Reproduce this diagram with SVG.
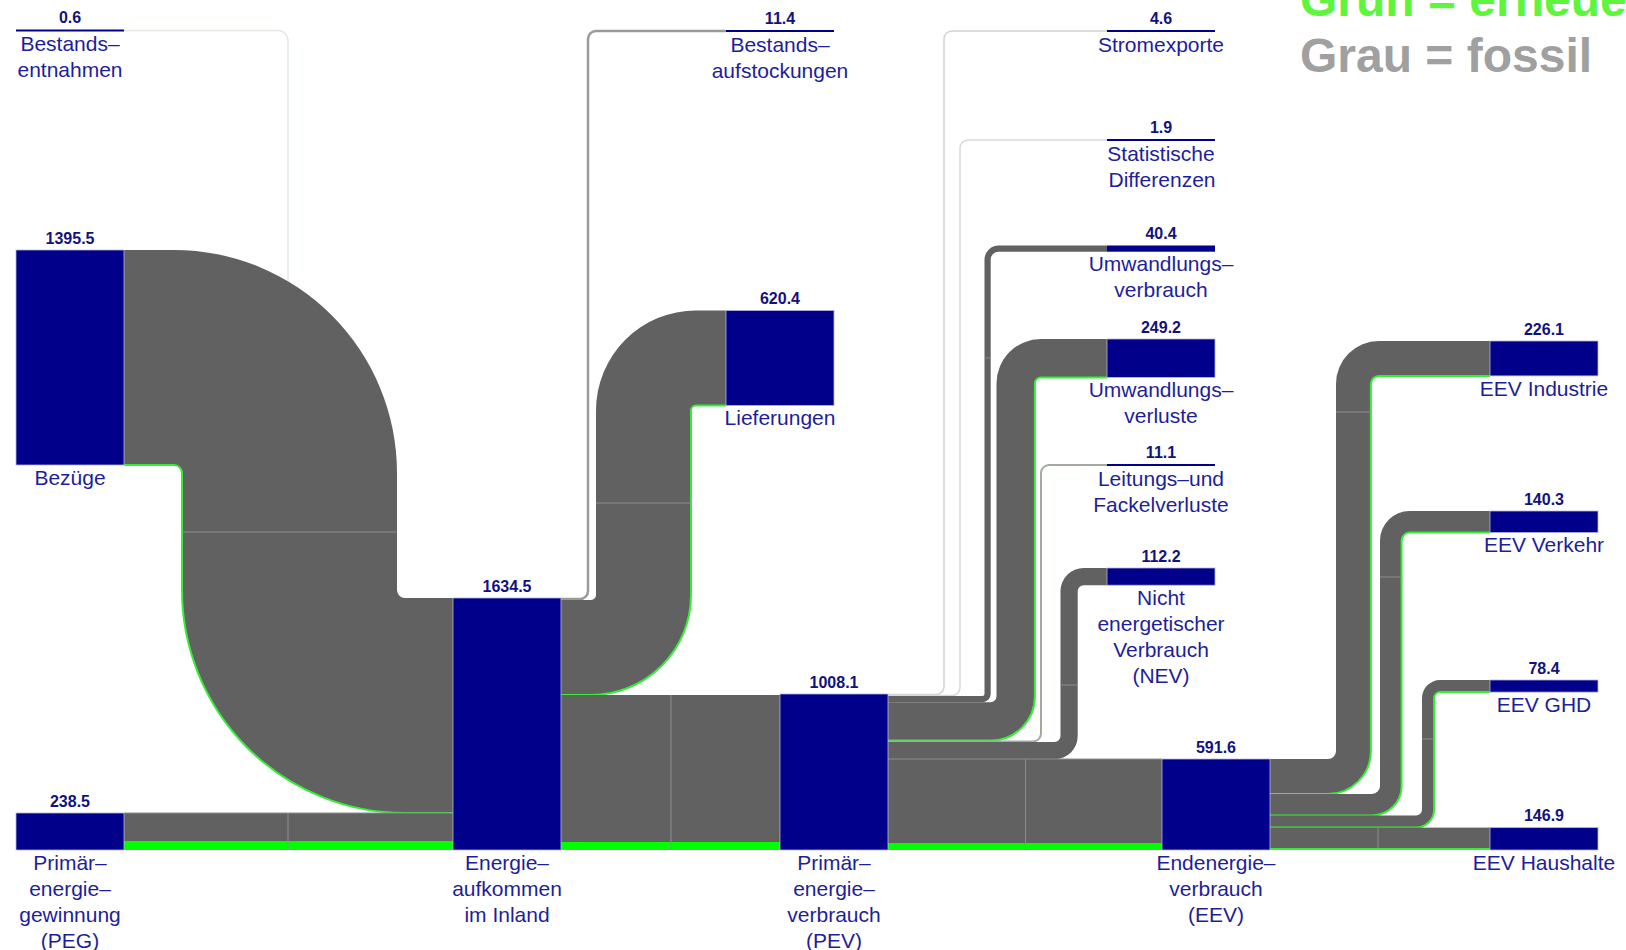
<svg xmlns="http://www.w3.org/2000/svg" width="1626" height="950" viewBox="0 0 1626 950">
<style>
.num{font-family:"Liberation Sans",Arial,sans-serif;font-weight:bold;font-size:16px;fill:#12127e;text-anchor:middle}
.lbl{font-family:"Liberation Sans",Arial,sans-serif;font-size:21px;fill:#1e1e9a;text-anchor:middle}
.node{fill:#00008b;stroke:#b4b4dc;stroke-width:0.8}
.bar{fill:#00008b}
.flow{fill:#616161}
.ren{fill:#00ff00}
.gedge{fill:none;stroke:#36ee36;stroke-width:2}
.seg{stroke:#8e8e8e;stroke-width:1;fill:none}
.thin{fill:none}
.leg{font-family:"Liberation Sans",Arial,sans-serif;font-weight:bold;font-size:48px}
</style>
<rect width="1626" height="950" fill="#ffffff"/>
<g id="legend">
<text class="leg" x="1300" y="16" fill="#5ef53c">Grün = erneue</text>
<text class="leg" x="1300" y="72" fill="#a0a0a0">Grau = fossil</text>
</g>
<g id="connectors">
<path class="thin" d="M124,30.5 L278,30.5 A10,10 0 0 1 288,40.5 L288,320" stroke="#e2eae2" stroke-width="1.5"/>
<path class="flow" d="M124,250 L174,250 A223,223 0 0 1 397,473 L397,590 A8,8 0 0 0 405,598 L453,598 L453,813 L405,813 A223,223 0 0 1 182,590 L182,473 A8,8 0 0 0 174,465 L124,465 Z"/>
<path class="gedge" d="M124,465 L174,465 A8,8 0 0 1 182,473 L182,590 A223,223 0 0 0 405,813 L453,813"/>
<path class="seg" d="M182,532 L397,532"/>
<rect class="flow" x="124" y="813" width="329" height="37"/>
<rect class="ren" x="124" y="841" width="329" height="9"/>
<path class="seg" d="M124,813 L453,813 M288,813 L288,850"/>
<path class="thin" d="M561,599 L580,599 A8,8 0 0 0 588,591 L588,39 A8,8 0 0 1 596,31 L726,31" stroke="#979c97" stroke-width="2.5"/>
<path class="flow" d="M561,600 L591,600 A5,5 0 0 0 596,595 L596,410.5 A100,100 0 0 1 696,310.5 L726,310.5 L726,405.5 L696,405.5 A5,5 0 0 0 691,410.5 L691,595 A100,100 0 0 1 591,695 L561,695 Z"/>
<path class="gedge" d="M561,695 L591,695 A100,100 0 0 0 691,595 L691,410.5 A5,5 0 0 1 696,405.5 L726,405.5"/>
<path class="seg" d="M596,503 L691,503"/>
<rect class="flow" x="561" y="695" width="219" height="155"/>
<rect class="ren" x="561" y="842" width="219" height="8"/>
<path class="seg" d="M671,695 L671,850"/>
<path class="thin" d="M888,694.6 L936,694.6 A8,8 0 0 0 944,686.6 L944,39 A8,8 0 0 1 952,31 L1107,31" stroke="#d2d2d2" stroke-width="1.5"/>
<path class="thin" d="M888,695.5 L952,695.5 A8,8 0 0 0 960,687.5 L960,148 A8,8 0 0 1 968,140 L1107,140" stroke="#d6dad6" stroke-width="1.5"/>
<path class="flow" d="M888,696 L982.5,696 A2,2 0 0 0 984.5,694 L984.5,259.7 A14.2,14.2 0 0 1 998.7,245.5 L1107,245.5 L1107,251.7 L998.7,251.7 A8,8 0 0 0 990.7,259.7 L990.7,694 A8.2,8.2 0 0 1 982.5,702.2 L888,702.2 Z"/>
<path class="seg" d="M984.5,358 L990.7,358"/>
<path class="flow" d="M888,702.2 L990.5,702.2 A6,6 0 0 0 996.5,696.2 L996.5,383.4 A44.4,44.4 0 0 1 1040.9,339 L1107,339 L1107,377.4 L1040.9,377.4 A6,6 0 0 0 1034.9,383.4 L1034.9,696.2 A44.4,44.4 0 0 1 990.5,740.6 L888,740.6 Z"/>
<path class="gedge" d="M888,740.6 L990.5,740.6 A44.4,44.4 0 0 0 1034.9,696.2 L1034.9,383.4 A6,6 0 0 1 1040.9,377.4 L1107,377.4"/>
<path class="thin" d="M888,741.5 L1033,741.5 A8,8 0 0 0 1041,733.5 L1041,473 A8,8 0 0 1 1049,465 L1107,465" stroke="#a2aaa2" stroke-width="2"/>
<path class="flow" d="M888,742 L1054.5,742 A6,6 0 0 0 1060.5,736 L1060.5,591.2 A23.2,23.2 0 0 1 1083.7,568 L1107,568 L1107,585.2 L1083.7,585.2 A6,6 0 0 0 1077.7,591.2 L1077.7,736 A23.2,23.2 0 0 1 1054.5,759.2 L888,759.2 Z"/>
<path class="seg" d="M1060.5,685 L1077.7,685"/>
<rect class="flow" x="888" y="759" width="274" height="91"/>
<rect class="ren" x="888" y="843" width="274" height="7"/>
<path class="seg" d="M888,759 L1162,759 M1025.6,759 L1025.6,850"/>
<path class="flow" d="M1270,759 L1328,759 A8,8 0 0 0 1336,751 L1336,383.9 A42.9,42.9 0 0 1 1378.9,341 L1490,341 L1490,375.9 L1378.9,375.9 A8,8 0 0 0 1370.9,383.9 L1370.9,751 A42.9,42.9 0 0 1 1328,793.9 L1270,793.9 Z"/>
<path class="gedge" d="M1270,793.9 L1328,793.9 A42.9,42.9 0 0 0 1370.9,751 L1370.9,383.9 A8,8 0 0 1 1378.9,375.9 L1490,375.9"/>
<path class="seg" d="M1336,412 L1370.9,412"/>
<path class="flow" d="M1270,793.9 L1372,793.9 A8,8 0 0 0 1380,785.9 L1380,540.6 A29.6,29.6 0 0 1 1409.6,511 L1490,511 L1490,532.6 L1409.6,532.6 A8,8 0 0 0 1401.6,540.6 L1401.6,785.9 A29.6,29.6 0 0 1 1372,815.5 L1270,815.5 Z"/>
<path class="gedge" d="M1270,815.5 L1372,815.5 A29.6,29.6 0 0 0 1401.6,785.9 L1401.6,540.6 A8,8 0 0 1 1409.6,532.6 L1490,532.6"/>
<path class="seg" d="M1380,577 L1401.6,577"/>
<path class="flow" d="M1270,815.5 L1416,815.5 A6,6 0 0 0 1422,809.5 L1422,698.1 A18.1,18.1 0 0 1 1440.1,680 L1490,680 L1490,692.1 L1440.1,692.1 A6,6 0 0 0 1434.1,698.1 L1434.1,809.5 A18.1,18.1 0 0 1 1416,827.6 L1270,827.6 Z"/>
<path class="gedge" d="M1270,827.6 L1416,827.6 A18.1,18.1 0 0 0 1434.1,809.5 L1434.1,698.1 A6,6 0 0 1 1440.1,692.1 L1490,692.1"/>
<path class="seg" d="M1422,739 L1434.1,739"/>
<rect class="flow" x="1270" y="827.6" width="220" height="22.4"/>
<path class="gedge" d="M1270,849 L1490,849"/>
<path class="seg" d="M1378,827.6 L1378,848"/>
</g>
<g id="node-bestandsentnahmen">
<rect class="bar" x="16" y="29.5" width="108" height="2"/>
<text class="num" x="70" y="23">0.6</text>
<text class="lbl" x="70" y="51">Bestands–</text>
<text class="lbl" x="70" y="77">entnahmen</text>
</g>
<g id="node-bezuege">
<rect class="node" x="16" y="250" width="108" height="215"/>
<text class="num" x="70" y="243.5">1395.5</text>
<text class="lbl" x="70" y="484.5">Bezüge</text>
</g>
<g id="node-peg">
<rect class="node" x="16" y="813" width="108" height="37"/>
<text class="num" x="70" y="806.5">238.5</text>
<text class="lbl" x="70" y="869.5">Primär–</text>
<text class="lbl" x="70" y="895.5">energie–</text>
<text class="lbl" x="70" y="921.5">gewinnung</text>
<text class="lbl" x="70" y="947.5">(PEG)</text>
</g>
<g id="node-energieaufkommen">
<rect class="node" x="453" y="598" width="108" height="252"/>
<text class="num" x="507" y="591.5">1634.5</text>
<text class="lbl" x="507" y="869.5">Energie–</text>
<text class="lbl" x="507" y="895.5">aufkommen</text>
<text class="lbl" x="507" y="921.5">im Inland</text>
</g>
<g id="node-bestandsaufstockungen">
<rect class="bar" x="726" y="30" width="108" height="2"/>
<text class="num" x="780" y="23.5">11.4</text>
<text class="lbl" x="780" y="51.5">Bestands–</text>
<text class="lbl" x="780" y="77.5">aufstockungen</text>
</g>
<g id="node-lieferungen">
<rect class="node" x="726" y="310.5" width="108" height="95"/>
<text class="num" x="780" y="304">620.4</text>
<text class="lbl" x="780" y="425">Lieferungen</text>
</g>
<g id="node-pev">
<rect class="node" x="780" y="694" width="108" height="156"/>
<text class="num" x="834" y="687.5">1008.1</text>
<text class="lbl" x="834" y="869.5">Primär–</text>
<text class="lbl" x="834" y="895.5">energie–</text>
<text class="lbl" x="834" y="921.5">verbrauch</text>
<text class="lbl" x="834" y="947.5">(PEV)</text>
</g>
<g id="node-stromexporte">
<rect class="bar" x="1107" y="30" width="108" height="2"/>
<text class="num" x="1161" y="23.5">4.6</text>
<text class="lbl" x="1161" y="51.5">Stromexporte</text>
</g>
<g id="node-statistische-differenzen">
<rect class="bar" x="1107" y="139" width="108" height="2"/>
<text class="num" x="1161" y="132.5">1.9</text>
<text class="lbl" x="1161" y="160.5">Statistische</text>
<text class="lbl" x="1162" y="186.5">Differenzen</text>
</g>
<g id="node-umwandlungsverbrauch">
<rect class="bar" x="1107" y="245.5" width="108" height="6.2"/>
<text class="num" x="1161" y="239">40.4</text>
<text class="lbl" x="1161" y="271">Umwandlungs–</text>
<text class="lbl" x="1161" y="297">verbrauch</text>
</g>
<g id="node-umwandlungsverluste">
<rect class="node" x="1107" y="339" width="108" height="38.4"/>
<text class="num" x="1161" y="332.5">249.2</text>
<text class="lbl" x="1161" y="397">Umwandlungs–</text>
<text class="lbl" x="1161" y="423">verluste</text>
</g>
<g id="node-leitungsverluste">
<rect class="bar" x="1107" y="464" width="108" height="2"/>
<text class="num" x="1161" y="457.5">11.1</text>
<text class="lbl" x="1161" y="485.5">Leitungs–und</text>
<text class="lbl" x="1161" y="511.5">Fackelverluste</text>
</g>
<g id="node-nev">
<rect class="node" x="1107" y="568" width="108" height="17.2"/>
<text class="num" x="1161" y="561.5">112.2</text>
<text class="lbl" x="1161" y="604.5">Nicht</text>
<text class="lbl" x="1161" y="630.5">energetischer</text>
<text class="lbl" x="1161" y="656.5">Verbrauch</text>
<text class="lbl" x="1161" y="682.5">(NEV)</text>
</g>
<g id="node-eev">
<rect class="node" x="1162" y="759" width="108" height="91"/>
<text class="num" x="1216" y="752.5">591.6</text>
<text class="lbl" x="1216" y="869.5">Endenergie–</text>
<text class="lbl" x="1216" y="895.5">verbrauch</text>
<text class="lbl" x="1216" y="921.5">(EEV)</text>
</g>
<g id="node-eev-industrie">
<rect class="node" x="1490" y="341" width="108" height="34.9"/>
<text class="num" x="1544" y="334.5">226.1</text>
<text class="lbl" x="1544" y="395.5">EEV Industrie</text>
</g>
<g id="node-eev-verkehr">
<rect class="node" x="1490" y="511" width="108" height="21.6"/>
<text class="num" x="1544" y="504.5">140.3</text>
<text class="lbl" x="1544" y="552">EEV Verkehr</text>
</g>
<g id="node-eev-ghd">
<rect class="node" x="1490" y="680" width="108" height="12.1"/>
<text class="num" x="1544" y="673.5">78.4</text>
<text class="lbl" x="1544" y="711.5">EEV GHD</text>
</g>
<g id="node-eev-haushalte">
<rect class="node" x="1490" y="827.6" width="108" height="22.4"/>
<text class="num" x="1544" y="821">146.9</text>
<text class="lbl" x="1544" y="869.5">EEV Haushalte</text>
</g>
</svg>
